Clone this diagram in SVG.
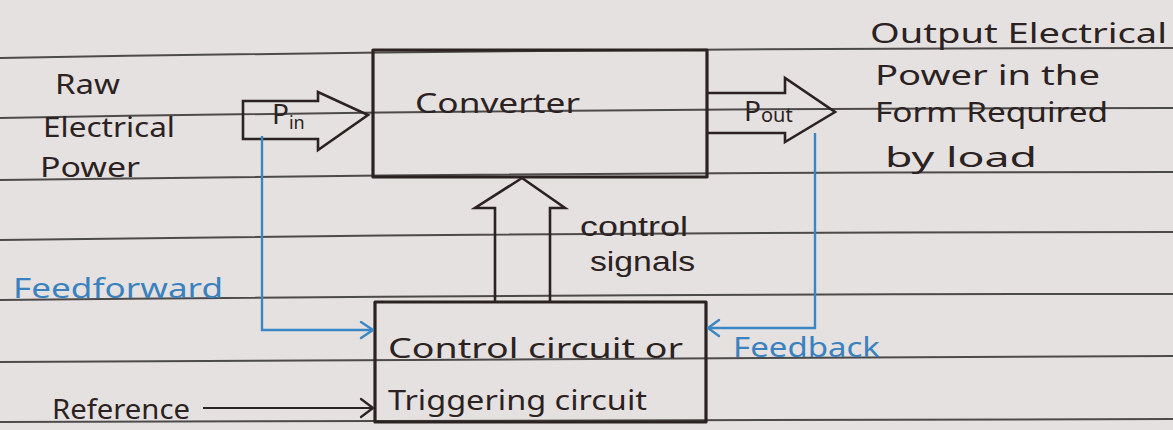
<svg xmlns="http://www.w3.org/2000/svg" width="1173" height="430" viewBox="0 0 1173 430">
  <defs>
    <style>
      .rule { fill: none; stroke: #4d4a4a; stroke-width: 2; }
      .box { fill: none; stroke: #2b2221; stroke-width: 3.2; stroke-linejoin: round; }
      .fat { fill: none; stroke: #2b2221; stroke-width: 2.6; stroke-linejoin: miter; }
      .ink { font-family: "Noto Sans", "Liberation Sans", sans-serif; font-size: 28px; fill: #2b2221; }
      .ink-tight { font-family: "Liberation Sans", "Noto Sans", sans-serif; font-size: 27px; fill: #2b2221; }
      .blue { font-family: "Noto Sans", "Liberation Sans", sans-serif; font-size: 28px; fill: #3a82bf; }
      .wire { fill: none; stroke: #3a86c4; stroke-width: 2.4; }
      .wire-head { fill: none; stroke: #3a86c4; stroke-width: 2.4; stroke-linecap: round; stroke-linejoin: round; }
      .ref { fill: none; stroke: #2b2221; stroke-width: 2.2; }
      .ref-head { fill: none; stroke: #2b2221; stroke-width: 2.2; stroke-linecap: round; stroke-linejoin: round; }
    </style>
  </defs>

  <!-- notebook page -->
  <rect x="0" y="0" width="1173" height="430" fill="#e5e1e0"/>
  <g id="ruling">
    <path class="rule" d="M0,58 Q586,48 1173,48"/>
    <path class="rule" d="M0,118 Q586,108 1173,108"/>
    <path class="rule" d="M0,180 Q586,172 1173,172"/>
    <path class="rule" d="M0,240 Q586,232 1173,232"/>
    <path class="rule" d="M0,300 Q586,294 1173,294"/>
    <path class="rule" d="M0,362 Q586,357 1173,356"/>
    <path class="rule" d="M0,422 Q586,420 1173,419"/>
  </g>

  <!-- converter block -->
  <g id="node-converter">
    <rect class="box" x="373" y="50" width="334" height="127"/>
    <text class="ink" x="415" y="113" font-size="30" textLength="165" lengthAdjust="spacingAndGlyphs">Converter</text>
  </g>

  <!-- control / triggering block -->
  <g id="node-control">
    <rect class="box" x="375" y="302" width="331" height="120"/>
    <text class="ink" x="388" y="358" textLength="295" lengthAdjust="spacingAndGlyphs">Control circuit or</text>
    <text class="ink" x="388" y="410" textLength="259" lengthAdjust="spacingAndGlyphs">Triggering circuit</text>
  </g>

  <!-- source label -->
  <g id="node-raw-power">
    <text class="ink" x="55" y="94" textLength="65" lengthAdjust="spacingAndGlyphs">Raw</text>
    <text class="ink" x="43" y="137" textLength="132" lengthAdjust="spacingAndGlyphs">Electrical</text>
    <text class="ink" x="40" y="177" textLength="100" lengthAdjust="spacingAndGlyphs">Power</text>
  </g>

  <!-- load label -->
  <g id="node-output-power">
    <text class="ink" x="870" y="43" textLength="297" lengthAdjust="spacingAndGlyphs">Output Electrical</text>
    <text class="ink" x="875" y="85" textLength="225" lengthAdjust="spacingAndGlyphs">Power in the</text>
    <text class="ink" x="875" y="122" textLength="233" lengthAdjust="spacingAndGlyphs">Form Required</text>
    <text class="ink" x="885" y="167" textLength="152" lengthAdjust="spacingAndGlyphs">by load</text>
  </g>

  <!-- reference label -->
  <g id="node-reference">
    <text class="ink" x="52" y="419" textLength="138" lengthAdjust="spacingAndGlyphs">Reference</text>
  </g>

  <g id="connectors">
    <!-- Pin power arrow -->
    <g id="edge-pin">
      <path class="fat" d="M243,101 L318,101 L318,92 L368,115 L318,150 L318,139 L243,139 Z"/>
      <text class="ink" x="272" y="124" font-size="23">P<tspan font-size="18" dy="5">in</tspan></text>
    </g>

    <!-- Pout power arrow -->
    <g id="edge-pout">
      <path class="fat" d="M707,93 L785,93 L785,78 L835,112 L785,142 L785,133 L707,133"/>
      <text class="ink" x="744" y="121" font-size="23">P<tspan font-size="20" dy="1">out</tspan></text>
    </g>

    <!-- control signals arrow -->
    <g id="edge-control-signals">
      <path class="fat" d="M495,302 L495,208 L475,208 L522,178 L565,208 L550,208 L550,302"/>
      <text class="ink-tight" x="580" y="236" textLength="108" lengthAdjust="spacingAndGlyphs">control</text>
      <text class="ink-tight" x="590" y="271" textLength="105" lengthAdjust="spacingAndGlyphs">signals</text>
    </g>

    <!-- feedforward path -->
    <g id="edge-feedforward">
      <polyline class="wire" points="262,136 262,330 372,330"/>
      <polyline class="wire-head" points="361,322 373,330 361,338"/>
      <text class="blue" x="13" y="298" textLength="210" lengthAdjust="spacingAndGlyphs">Feedforward</text>
    </g>

    <!-- feedback path -->
    <g id="edge-feedback">
      <polyline class="wire" points="815,133 815,328 709,328"/>
      <polyline class="wire-head" points="719,320 708,328 719,336"/>
      <text class="blue" x="733" y="357" textLength="147" lengthAdjust="spacingAndGlyphs">Feedback</text>
    </g>

    <!-- reference input -->
    <g id="edge-reference">
      <line class="ref" x1="203" y1="408" x2="372" y2="408"/>
      <polyline class="ref-head" points="361,399 373,408 361,417"/>
    </g>
  </g>
</svg>
